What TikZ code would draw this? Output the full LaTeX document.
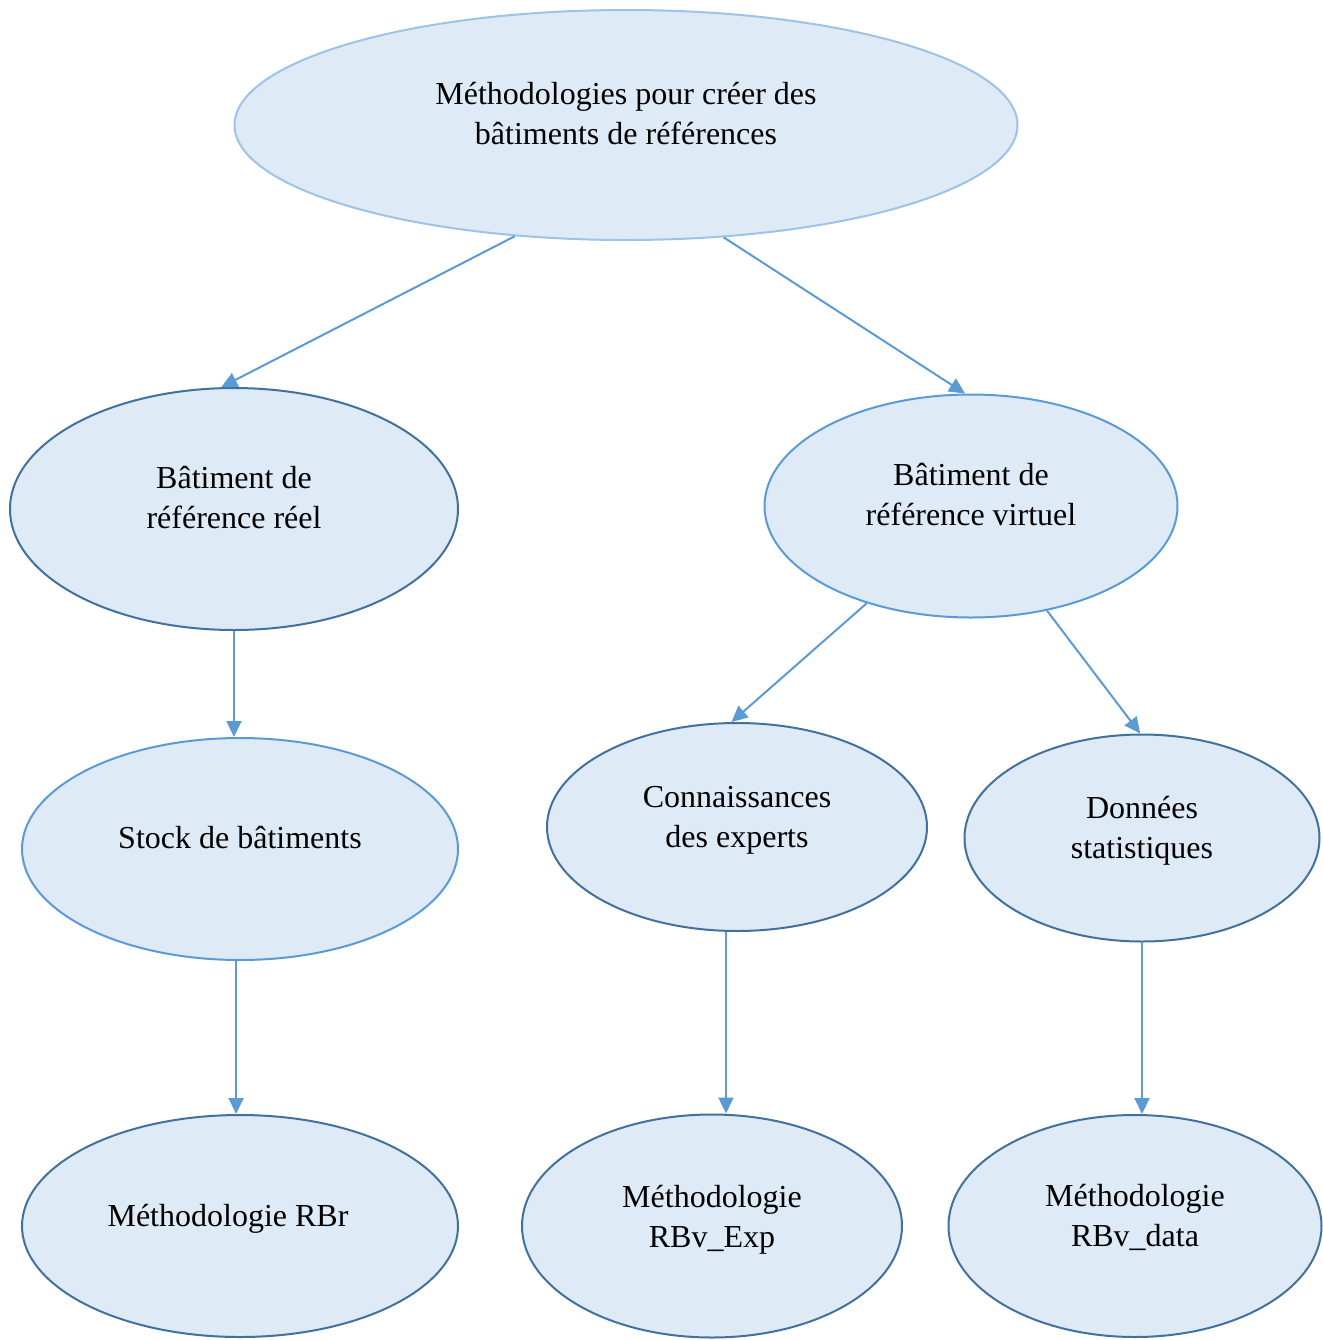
\documentclass[tikz,border=0pt]{standalone}
\usepackage{fontspec}
\setmainfont{Liberation Serif}
\usepackage{tikz}
\usetikzlibrary{shapes,arrows.meta,positioning}
\definecolor{remplissage}{HTML}{DEEAF6}
\definecolor{bordfonce}{HTML}{41719C}
\definecolor{bordclair}{HTML}{5B9BD5}
\definecolor{bordpale}{HTML}{9DC3E6}
\definecolor{fleche}{HTML}{5B9BD5}
\tikzstyle{bulle} = [ellipse, draw=bordfonce, line width=1pt, fill=remplissage, inner sep=0pt]
\tikzstyle{texte} = [align=center, font=\fontsize{16}{20}\selectfont, text=black, yshift=5.5pt]
\tikzstyle{arrow} = [draw=fleche, line width=1pt, -{Triangle[length=8pt,width=7.5pt]}]

\begin{document}
\begin{tikzpicture}[x=0.5pt,y=-0.5pt]
	\useasboundingbox (0,0) rectangle (1323,1340);
	% niveau 1
	\node[bulle, draw=bordpale, minimum width=391.5pt, minimum height=115pt, label={[texte]center:Méthodologies pour créer des\\bâtiments de références}] (top) at (626,125) {};
	% niveau 2
	\node[bulle, minimum width=224pt, minimum height=121pt, label={[texte]center:Bâtiment de\\référence réel}] (reel) at (234,509) {};
	\node[bulle, draw=bordclair, minimum width=206.5pt, minimum height=111.5pt, label={[texte]center:Bâtiment de\\référence virtuel}] (virt) at (971,506) {};
	% niveau 3
	\node[bulle, draw=bordclair, minimum width=218pt, minimum height=111pt, label={[texte]center:Stock de bâtiments}] (stock) at (240,849) {};
	\node[bulle, minimum width=190pt, minimum height=104pt, label={[texte,yshift=-2pt]center:Connaissances\\des experts}] (conn) at (737,827) {};
	\node[bulle, minimum width=177.5pt, minimum height=103.5pt, label={[texte,yshift=-2pt]center:Données\\statistiques}] (donnees) at (1142,838) {};
	% niveau 4
	\node[bulle, minimum width=218pt, minimum height=111pt, label={[texte,yshift=-2pt,xshift=-6pt]center:Méthodologie RBr}] (rbr) at (240,1226) {};
	\node[bulle, minimum width=190pt, minimum height=111.5pt, label={[texte,yshift=-2.5pt]center:Méthodologie\\RBv\_Exp}] (rbvexp) at (712,1226) {};
	\node[bulle, minimum width=186.5pt, minimum height=111pt, label={[texte,yshift=-1pt]center:Méthodologie\\RBv\_data}] (rbvdata) at (1135,1226) {};

	\draw[arrow] (top.225) -- (reel.96);
	\draw[arrow] (top.311) -- (virt.93);
	\draw[arrow] (reel.south) -- (reel.south |- stock.north);
	\draw[arrow] (virt.223) -- (conn.93);
	\draw[arrow] (virt.306) -- (donnees.91);
	\draw[arrow] (stock.268) -- (stock.268 |- rbr.north);
	\draw[arrow] (conn.264) -- (conn.264 |- rbvexp.north);
	\draw[arrow] (donnees.south) -- (donnees.south |- rbvdata.north);
\end{tikzpicture}
\end{document}
